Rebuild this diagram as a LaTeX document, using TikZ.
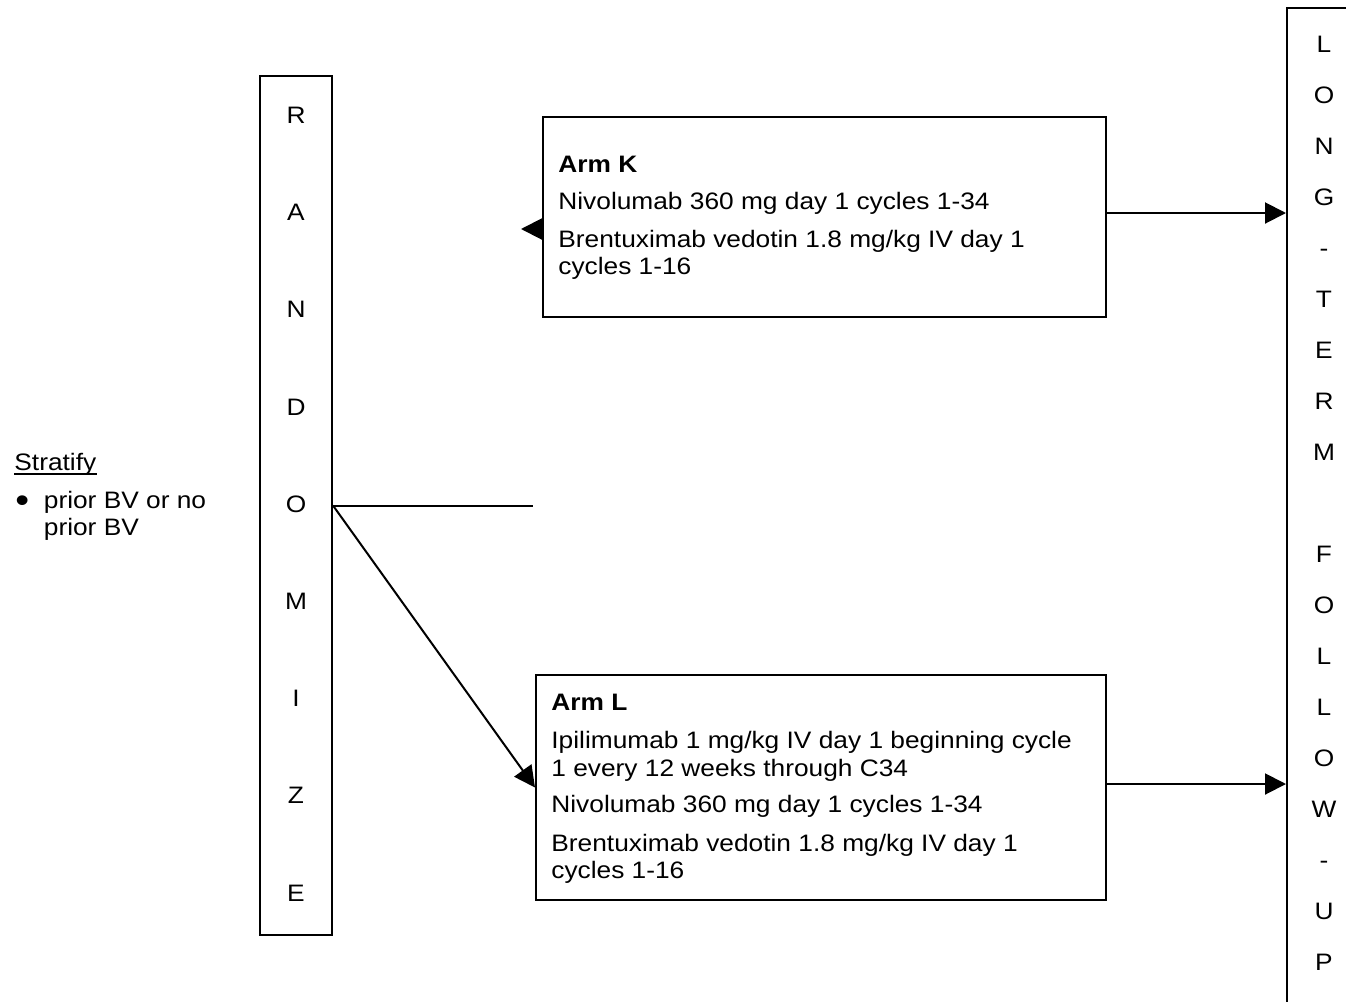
\documentclass[tikz,border=0pt]{standalone}
\usepackage{fontspec}
\setmainfont{Liberation Sans}[FakeStretch=1.105]
\usetikzlibrary{fit,arrows.meta}
\tikzset{
  box/.style={draw, line width=1pt, rectangle, inner sep=0pt},
  txt/.style={anchor=base west, inner sep=0pt},
  letter/.style={anchor=base, inner sep=0pt},
  conn/.style={line width=1pt},
  arr/.style={line width=1pt, -{Triangle[length=10.5pt,width=10.5pt]}}
}
\begin{document}
\begin{tikzpicture}[x=0.5pt,y=-0.5pt,font=\fontsize{11.9}{14}\selectfont]
\useasboundingbox (0,0) rectangle (1346,1002);
\clip (0,0) rectangle (1346,1002);
% boxes
\node[box, fit={(260,76)(332,935)}] (rand) {};
\node[box, fit={(543,117)(1106,317)}] (armK) {};
\node[box, fit={(536,675)(1106,900)}] (armL) {};
\node[box, fit={(1287,8)(1420,1060)}] (ltfu) {};
% RANDOMIZE
\foreach \l [count=\i from 0] in {R,A,N,D,O,M,I,Z,E}
  \node[letter] (rl\i) at (296,123.5+97.2*\i) {\l};
% LONG-TERM FOLLOW-UP
\foreach \i/\l in {0/L,1/O,2/N,3/G,4/-,5/T,6/E,7/R,8/M,10/F,11/O,12/L,13/L,14/O,15/W,16/-,17/U,18/P}
  \node[letter] (ll\i) at (1324,52.3+51*\i) {\l};
% Arm K text
\node[txt] (k1) at (558,172.8) {\bfseries Arm K};
\node[txt] (k2) at (558,209) {Nivolumab 360 mg day 1 cycles 1-34};
\node[txt] (k3) at (558,247.3) {Brentuximab vedotin 1.8 mg/kg IV day 1};
\node[txt] (k4) at (558,274) {cycles 1-16};
% Arm L text
\node[txt] (l1) at (551,710.7) {\bfseries Arm L};
\node[txt] (l2) at (551,748.8) {Ipilimumab 1 mg/kg IV day 1 beginning cycle};
\node[txt] (l3) at (551,776) {1 every 12 weeks through C34};
\node[txt] (l4) at (551,812.5) {Nivolumab 360 mg day 1 cycles 1-34};
\node[txt] (l5) at (551,851.7) {Brentuximab vedotin 1.8 mg/kg IV day 1};
\node[txt] (l6) at (551,878.3) {cycles 1-16};
% Stratify
\node[txt] (strat) at (14,470) {Stratify};
\draw[line width=0.8pt] ([yshift=-2pt]strat.base west) -- ([yshift=-2pt]strat.base east);
\node[txt] (bul) at (15,508) {\raisebox{-2pt}{\scalebox{1.5}{\textbullet}}};
\node[txt] (s1) at (43.5,508) {prior BV or no};
\node[txt] (s2) at (43.5,535) {prior BV};
% connectors
\coordinate (forkend) at (533,505.5);
\draw[conn] (rand.east) -- (forkend);
\draw[arr] (rand.east) -- (armL.west);
\coordinate (kin) at ([yshift=-6pt]armK.west);
\draw[arr] (kin) -- ++(-21,0);
\coordinate (kout) at ([yshift=2pt]armK.east);
\draw[arr] (kout) -- (kout -| ltfu.west);
\coordinate (lout) at ([yshift=1.75pt]armL.east);
\draw[arr] (lout) -- (lout -| ltfu.west);
\end{tikzpicture}
\end{document}
